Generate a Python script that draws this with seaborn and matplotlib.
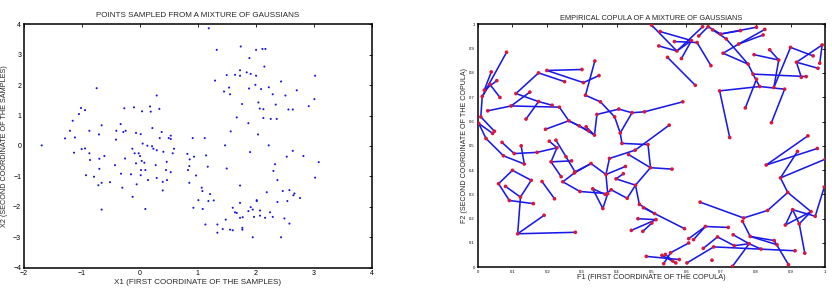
import numpy as np
import pandas as pd
import seaborn as sns
import matplotlib
matplotlib.use("Agg")
import matplotlib.pyplot as plt

# ---------------- left panel: samples (X1, X2) ----------------
x1 = [-1.695, 1.188, 1.326, 1.740, 1.890, 2.005, 2.114, 2.166, 2.148, 1.297,
      1.498, 1.642, 1.728, 1.728, 1.843, 1.912, 2.005, 1.993, 1.884, 2.091,
      2.224, 2.436, 1.539, 1.556, 1.452, 2.292, 2.511, 2.707, 3.023, 3.011,
      2.914, 1.763, 2.045, 2.068, 2.131, 2.344, 2.563, 2.638, 1.671, 2.131,
      2.258, 2.361, 1.872, 2.039, 1.567, 1.469, 2.223, -0.746, -1.016, -0.947,
      -1.051, -1.160, -1.206, -1.292, -1.120, -0.872, -0.706, -0.660, -1.005, -0.947,
      -0.412, -0.407, -0.332, -0.286, -0.246, -0.269, -0.102, -0.067, 0.014, 0.037,
      0.187, 0.175, 0.336, 0.290, 0.048, 0.129, 0.215, 0.210, 0.233, 0.376,
      0.342, 0.497, 0.532, 0.532, 0.589, -0.130, 0.911, 1.119,
      -1.137, -0.872, -0.861, -0.700, -0.613, -0.700, -0.930, -0.792, -0.717, -0.660,
      -0.516, -0.430, -0.326, -0.303, -0.257, -0.660, -0.125, -0.154, -0.091, -0.021,
      0.002, -0.067, 0.031, 0.077, 0.019, 0.014, 0.094, -0.056, 0.094, 0.140,
      0.273, 0.290, 0.394, 0.468, 0.463, 0.451, 0.532, 0.394, 0.290, 0.819,
      0.859, 0.934, 0.853, 0.830, 0.853, 0.969, 1.142, 1.171, 1.067, 1.079,
      1.211, 1.009, 1.182, 1.274, 0.923, 1.084, 1.130, 1.337, 1.337, 1.429,
      1.481, 1.556, 1.602, 1.498, 1.728, 1.728, 1.602, 1.642, 1.671, 1.728,
      1.774, 1.768, 1.768, 1.872, 1.912, 1.947, 1.970, 2.016, 2.016, 2.073,
      2.073, 2.160, 2.189, 2.246, 2.292, 2.332, 2.304, 2.373, 2.373, 2.465,
      2.494, 2.545, 2.580, 2.580, 2.649, 2.667, 2.436, 1.947, 2.764, 2.534,
      2.638, 2.822, 3.023, 3.086, 1.901, 0.405, 0.566]
x2 = [0.02, 3.87, 3.16, 3.27, 2.89, 3.16, 3.19, 3.19, 2.61, 2.15,
      2.33, 2.34, 2.49, 2.31, 2.42, 2.37, 2.31, 2.01, 1.89, 1.87,
      1.93, 2.12, 1.92, 1.70, 1.79, 1.70, 1.66, 1.83, 2.31, 1.54,
      1.31, 1.38, 1.43, 1.23, 1.21, 1.36, 1.20, 1.20, 0.94, 0.92,
      0.89, 0.89, 0.75, 0.38, 0.48, 0.02, 0.02, 1.90, 1.25, 1.18,
      1.05, 0.83, 0.50, 0.25, 0.28, 0.50, 0.38, 0.68, -0.10, -0.08,
      0.21, 0.50, 0.72, 0.46, 0.50, 1.24, 1.27, 0.43, 0.39, 1.14,
      1.13, 1.30, 1.22, 1.66, 0.08, 0.01, 0.59, -0.01, -0.09, 0.46,
      0.26, 0.26, 0.34, 0.23, -0.09, -0.09, 0.26, 0.26,
      -0.22, -0.24, -0.46, -0.42, -0.33, -0.75, -0.96, -1.01, -1.29, -1.21,
      -1.19, -0.63, -0.91, -1.37, -0.41, -2.09, -1.67, -0.93, -0.24, -0.24,
      -0.33, -0.57, -0.49, -0.55, -0.79, -0.96, -0.79, -1.26, -2.07, -1.12,
      -0.63, -1.05, -1.18, -1.12, -0.52, -0.79, -0.86, -1.46, -0.14, -0.26,
      -0.44, -0.35, -0.66, -0.79, -1.21, -0.97, -0.31, -0.68, -1.37, -1.48,
      -1.58, -1.78, -1.81, -1.79, -2.03, -2.07, -2.58, -2.58, -2.85, -2.73,
      -2.42, -2.75, -2.77, -0.74, -1.30, -1.87, -2.03, -2.18, -2.20, -2.36,
      -2.34, -2.69, -2.75, -2.14, -2.01, -2.09, -2.33, -1.78, -1.81, -2.12,
      -2.29, -2.36, -1.52, -2.18, -2.33, -0.60, -0.82, -1.12, -1.84, -1.48,
      -2.38, -1.81, -1.45, -2.55, -1.62, -1.56, -3.00, -3.00, -1.71, -0.35,
      -0.16, -0.33, -1.04, -0.53, -0.20, -0.19, -0.24]

# ---------------- right panel: empirical copula (F1, F2) ----------------
cop_u = [0.083, 0.013, 0.009, 0.048, 0.039, 0.019, 0.055, 0.035, 0.064, 0.003,
         0.043, 0.024, 0.074, 0.134, 0.029, 0.096, 0.235, 0.110, 0.175, 0.214,
         0.150, 0.139, 0.175, 0.250, 0.199, 0.300, 0.304, 0.349, 0.337, 0.310,
         0.353, 0.394, 0.410, 0.343, 0.406, 0.444, 0.480, 0.590, 0.336, 0.262,
         0.292, 0.195, 0.319, 0.312, 0.070, 0.105, 0.171, 0.228, 0.125, 0.206,
         0.211, 0.270, 0.225, 0.254, 0.280, 0.240, 0.326, 0.245, 0.100, 0.060,
         0.091, 0.160, 0.154, 0.123, 0.080, 0.115, 0.191, 0.281, 0.185, 0.221,
         0.278, 0.369, 0.425, 0.294, 0.374, 0.331, 0.360, 0.398, 0.454, 0.430,
         0.384, 0.419, 0.497, 0.559, 0.551, 0.453, 0.379, 0.415, 0.490, 0.434,
         0.367, 0.465, 0.477, 0.509, 0.513, 0.461, 0.501, 0.442, 0.475, 0.595,
         0.640, 0.607, 0.621, 0.607, 0.655, 0.721, 0.485, 0.530, 0.540, 0.555,
         0.535, 0.561, 0.580, 0.570, 0.602, 0.649, 0.674, 0.679, 0.690, 0.733,
         0.738, 0.735, 0.765, 0.762, 0.784, 0.781, 0.815, 0.853, 0.861, 0.913,
         0.941, 0.894, 0.834, 0.892, 0.885, 0.906, 0.925, 0.959, 0.971, 0.997,
         1.000, 0.871, 0.830, 0.920, 0.950, 0.977, 0.725, 0.770, 0.845, 0.500,
         0.525, 0.521, 0.546, 0.566, 0.586, 0.573, 0.615, 0.631, 0.626, 0.636,
         0.647, 0.663, 0.671, 0.699, 0.715, 0.706, 0.751, 0.756, 0.802, 0.826,
         0.821, 0.778, 0.795, 0.840, 0.866, 0.900, 0.991, 0.965, 0.917, 0.984,
         0.979, 0.931, 0.945, 0.792, 0.802, 0.811, 0.852, 0.883, 0.696, 0.676]
cop_v = [0.885, 0.703, 0.619, 0.560, 0.804, 0.729, 0.768, 0.753, 0.699, 0.592,
         0.551, 0.530, 0.459, 0.425, 0.644, 0.664, 0.659, 0.715, 0.682, 0.667,
         0.721, 0.610, 0.800, 0.764, 0.810, 0.814, 0.760, 0.789, 0.849, 0.708,
         0.681, 0.619, 0.553, 0.629, 0.651, 0.636, 0.640, 0.681, 0.544, 0.603,
         0.582, 0.568, 0.562, 0.578, 0.514, 0.468, 0.473, 0.492, 0.500, 0.519,
         0.434, 0.438, 0.523, 0.455, 0.393, 0.373, 0.427, 0.352, 0.399, 0.344,
         0.275, 0.262, 0.358, 0.289, 0.333, 0.138, 0.214, 0.144, 0.353, 0.282,
         0.388, 0.382, 0.415, 0.312, 0.303, 0.323, 0.242, 0.364, 0.338, 0.284,
         0.319, 0.385, 0.410, 0.404, 0.585, 0.482, 0.448, 0.510, 0.505, 0.464,
         0.300, 0.259, 0.245, 0.221, 0.196, 0.200, 0.182, 0.152, 0.148, 0.159,
         0.268, 0.118, 0.114, 0.100, 0.168, 0.164, 0.045, 0.049, 0.053, 0.060,
         0.015, 0.026, 0.032, 0.018, 0.018, 0.078, 0.029, 0.084, 0.125, 0.004,
         0.089, 0.134, 0.203, 0.189, 0.127, 0.097, 0.075, 0.110, 0.093, 0.068,
         0.058, 0.011, 0.234, 0.308, 0.174, 0.237, 0.179, 0.229, 0.210, 0.330,
         0.445, 0.368, 0.421, 0.477, 0.541, 0.489, 0.534, 0.656, 0.595, 0.997,
         0.970, 0.911, 0.864, 0.929, 0.859, 0.890, 0.933, 0.925, 0.749, 0.952,
         0.990, 0.990, 0.830, 0.960, 0.940, 0.881, 0.919, 0.974, 0.988, 0.979,
         0.956, 0.836, 0.875, 0.895, 0.853, 0.905, 0.915, 0.870, 0.844, 0.840,
         0.819, 0.782, 0.785, 0.795, 0.774, 0.744, 0.740, 0.733, 0.726, 0.977]

# links between copula points (indices into cop_u / cop_v), as polylines
cop_paths = [
    [0, 1, 2, 3], [4, 5, 6], [1, 7, 8], [9, 10], [9, 11, 12, 13],
    [14, 15, 16], [17, 18, 19], [20, 15], [17, 22, 23], [24, 25],
    [24, 26, 27], [28, 29], [29, 30, 31, 32, 87], [33, 34, 35, 36, 37],
    [32, 35], [38, 33], [16, 39, 40, 38], [41, 39], [39, 42], [43, 38],
    [21, 18], [44, 45, 46, 47], [48, 13], [49, 47, 50, 51], [52, 53, 54, 56],
    [50, 55], [57, 70, 56, 71, 72], [58, 59, 60, 61], [58, 62, 63, 64],
    [65, 63], [65, 66], [65, 67], [68, 69], [57, 73, 74, 71], [75, 76, 74],
    [75, 90, 80], [81, 77, 78, 79, 80], [84, 85, 86, 71], [87, 88, 82, 83],
    [89, 82], [78, 82], [78, 91, 93, 99], [92, 93], [97, 94], [98, 96],
    [95, 94], [101, 104, 105], [102, 104], [103, 109], [106, 112],
    [107, 113], [109, 110], [108, 111], [114, 117],
    [100, 122, 132, 133, 137], [123, 124, 127], [124, 128], [121, 125, 126],
    [117, 129], [115, 118, 120, 125], [119, 125], [127, 131],
    [134, 135, 138], [135, 136, 130], [134, 137], [136, 137], [139, 138],
    [141, 140], [141, 133], [142, 144], [142, 145], [141, 143],
    [188, 146], [147, 184], [148, 187], [149, 155], [150, 156], [153, 157],
    [151, 155], [155, 156], [155, 160], [152, 158], [154, 156], [157, 162],
    [159, 161], [161, 163, 167], [163, 168], [189, 164], [164, 171],
    [165, 166, 170], [166, 169], [165, 171], [171, 183, 185], [183, 182],
    [172, 174], [173, 174], [174, 186], [175, 186], [175, 177],
    [178, 176, 179], [178, 180], [178, 181], [185, 187], [188, 185],
]

left_xticks = [-2, -1, 0, 1, 2, 3, 4]
left_yticks = [-4, -3, -2, -1, 0, 1, 2, 3, 4]
right_ticks = [0, 0.1, 0.2, 0.3, 0.4, 0.5, 0.6, 0.7, 0.8, 0.9, 1]
right_ticklabels = ["0", "0.1", "0.2", "0.3", "0.4", "0.5", "0.6", "0.7", "0.8", "0.9", "1"]

# ---------------- figure ----------------
sns.set_theme(style="white")
plt.rcParams["font.family"] = ["Liberation Sans", "DejaVu Sans"]
plt.rcParams["axes.unicode_minus"] = True

fig = plt.figure(figsize=(8.32, 3.0), dpi=100)
ax1 = fig.add_axes([24 / 832, 32.3 / 300, 347.7 / 832, 243.4 / 300])
ax2 = fig.add_axes([477.7 / 832, 32.7 / 300, 347.6 / 832, 243 / 300])

# left scatter
samples = pd.DataFrame({"X1": x1, "X2": x2})
sns.scatterplot(data=samples, x="X1", y="X2", ax=ax1, s=2.2, color="#1515e0",
                edgecolor="none", linewidth=0)
ax1.set_xlim(-2, 4)
ax1.set_ylim(-4, 4)
ax1.set_xticks(left_xticks)
ax1.set_yticks(left_yticks)

# right copula: links then points
rows = []
for pid, path in enumerate(cop_paths):
    for k, idx in enumerate(path):
        rows.append({"path": pid, "order": k, "u": cop_u[idx], "v": cop_v[idx]})
links = pd.DataFrame(rows)
sns.lineplot(data=links, x="u", y="v", units="path", estimator=None, sort=False,
             color="#1a1ae8", linewidth=1.15, ax=ax2, legend=False)
copula = pd.DataFrame({"F1": cop_u, "F2": cop_v})
sns.scatterplot(data=copula, x="F1", y="F2", ax=ax2, s=7, color="#d8163e",
                edgecolor="none", linewidth=0, zorder=3)
ax2.set_xlim(0, 1)
ax2.set_ylim(0, 1)
ax2.set_xticks(right_ticks)
ax2.set_yticks(right_ticks)
ax2.set_xticklabels(right_ticklabels)
ax2.set_yticklabels(right_ticklabels)

for ax in (ax1, ax2):
    ax.grid(False)
    for sp in ax.spines.values():
        sp.set_visible(True)
        sp.set_color("black")
        sp.set_linewidth(1.1)
    ax.tick_params(direction="in", top=True, right=True, length=2.5, width=0.6,
                   colors="black")

ax1.tick_params(labelsize=5, pad=2)
ax2.tick_params(labelsize=3, pad=2)

# labels and titles
ax1.set_title("POINTS SAMPLED FROM A MIXTURE OF GAUSSIANS", fontsize=5.8,
              y=1.035, va="center", pad=0)
ax1.set_xlabel("X1 (FIRST COORDINATE OF THE SAMPLES)", fontsize=5.8, va="center")
ax1.xaxis.set_label_coords(0.5, -0.062)
ax1.set_ylabel("X2 (SECOND COORDINATE OF THE SAMPLES)", fontsize=5.2, va="center")
ax1.yaxis.set_label_coords(-0.055, 0.5)

ax2.set_title("EMPIRICAL COPULA OF A MIXTURE OF GAUSSIANS", fontsize=5.3,
              y=1.025, va="center", pad=0)
ax2.set_xlabel("F1 (FIRST COORDINATE OF THE COPULA)", fontsize=5.3, va="center")
ax2.xaxis.set_label_coords(0.5, -0.043)
ax2.set_ylabel("F2 (SECOND COORDINATE OF THE COPULA)", fontsize=5.1, va="center")
ax2.yaxis.set_label_coords(-0.039, 0.5)

fig.savefig("out.png", dpi=100, facecolor="white")
